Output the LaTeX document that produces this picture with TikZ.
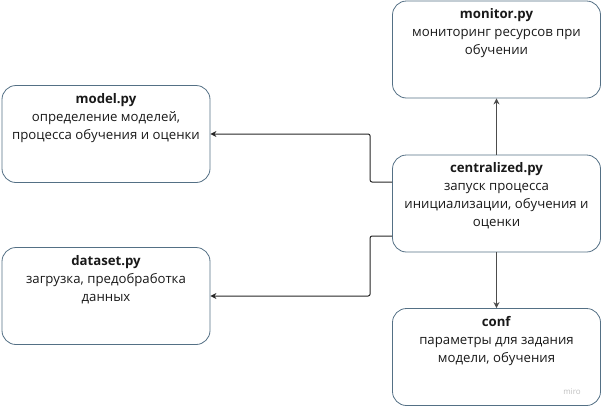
\documentclass[tikz,border=0pt]{standalone}
\usepackage{fontspec}
\setmainfont{Open Sans}
\usetikzlibrary{arrows.meta}
\begin{document}
\begin{tikzpicture}[x=1pt,y=-1pt,
  box/.style={draw=boxline,line width=0.8pt,rounded corners=14pt,minimum width=208pt,minimum height=97pt,inner sep=0pt},
  boxtext/.style={anchor=north,align=center,inner sep=0pt,font=\fontsize{13.2}{18}\selectfont,text=black!90},
  conn/.style={line width=1pt,draw=black!85,rounded corners=2pt,-{Stealth[length=6pt,width=6pt]}}]
\definecolor{boxline}{rgb}{0.33,0.44,0.52}
\useasboundingbox (0,0) rectangle (602,408);
% boxes
\node[box] (model) at (106,134) {};
\node[box] (dataset) at (106,296) {};
\node[box] (monitor) at (496.5,49.5) {};
\node[box] (central) at (496.5,203.5) {};
\node[box] (conf) at (496.5,357) {};
% texts
\node[boxtext] (modeltext) at ([yshift=-8pt]model.north) {\textbf{model.py}\\определение моделей,\\процесса обучения и оценки};
\node[boxtext] (datasettext) at ([yshift=-8pt]dataset.north) {\textbf{dataset.py}\\загрузка, предобработка\\данных};
\node[boxtext] (monitortext) at ([yshift=-8pt]monitor.north) {\textbf{monitor.py}\\мониторинг ресурсов при\\обучении};
\node[boxtext] (centraltext) at ([yshift=-8pt]central.north) {\textbf{centralized.py}\\запуск процесса\\инициализации, обучения и\\оценки};
\node[boxtext] (conftext) at ([yshift=-8pt]conf.north) {\textbf{conf}\\параметры для задания\\модели, обучения};
\node[text=black!25,font=\fontsize{8}{9}\selectfont] (miro) at (572,392) {miro};
% connectors
\draw[conn] ([yshift=21.5pt]central.west) -- ++(-22,0) |- (model.east);
\draw[conn] ([yshift=-32.5pt]central.west) -- ++(-22,0) |- (dataset.east);
\draw[conn,draw=black!70] (central.north) -- (monitor.south);
\draw[conn,draw=black!70] (central.south) -- (conf.north);
\end{tikzpicture}
\end{document}
